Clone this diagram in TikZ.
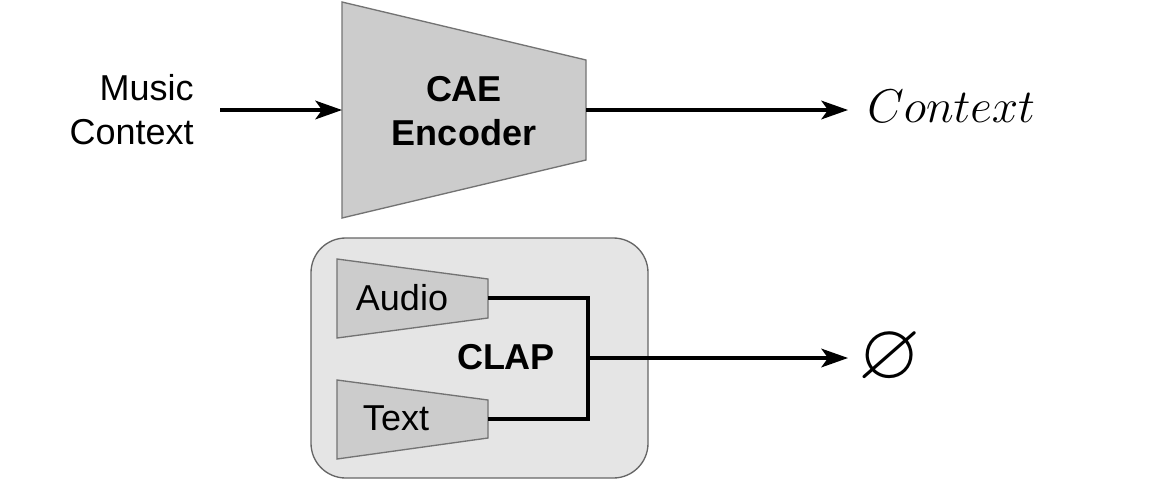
\RequirePackage{fix-cm}
\documentclass[tikz,border=0pt]{standalone}
\usepackage{amssymb}
\usepackage{fontspec}
\setmainfont{Liberation Sans}
\usetikzlibrary{arrows.meta}
\tikzset{
  trap/.style={draw=black!55, fill=black!20, line width=1pt},
  conn/.style={line width=2.4pt, line join=miter},
  arr/.style={conn, -{Stealth[length=20pt,width=14pt,inset=5pt]}},
  lbl/.style={font=\fontsize{27}{33}\selectfont, align=center, inner sep=0pt},
  blbl/.style={lbl, font=\fontsize{27}{33}\selectfont\bfseries},
}
\begin{document}
\begin{tikzpicture}[x=0.75pt,y=-0.75pt]
\useasboundingbox (0,0) rectangle (1170,482);
% CAE encoder
\draw[trap] (342,2) -- (586,60) -- (586,160) -- (342,218) -- cycle;
\node[blbl] (enc) at (464,111) {CAE\\Encoder};
\coordinate (encL) at (342,110);
\coordinate (encR) at (586,110);
\node[lbl, align=right, anchor=east] (music) at (194,110) {Music\\Context};
\coordinate (musicE) at (220,110);
\draw[arr] (musicE) -- (encL);
\node[inner sep=0pt, anchor=west, font=\fontsize{35.5}{40}\selectfont] (ctx) at (867,106) {$Context$};
\coordinate (ctxW) at (848,110);
\draw[arr] (encR) -- (ctxW);
% CLAP box
\draw[draw=black!60, fill=black!10, line width=1pt, rounded corners=26] (311,238) rectangle (648,478);
\draw[trap] (337,259) -- (488,279) -- (488,318) -- (337,338) -- cycle;
\draw[trap] (337,380) -- (488,400) -- (488,438) -- (337,459) -- cycle;
\node[lbl] (audio) at (402,298) {Audio};
\node[lbl] (text) at (396,418) {Text};
\node[blbl] (clap) at (506,357) {CLAP};
\coordinate (audioR) at (488,298);
\coordinate (textR) at (488,419);
\coordinate (join) at (588,358);
\draw[conn] (audioR) -| (join) |- (textR);
\node[inner sep=0pt, font=\fontsize{60}{66}\selectfont] (empty) at (890,358) {$\varnothing$};
\coordinate (emptyW) at (848,358);
\draw[arr] (join) -- (emptyW);
\end{tikzpicture}
\end{document}
